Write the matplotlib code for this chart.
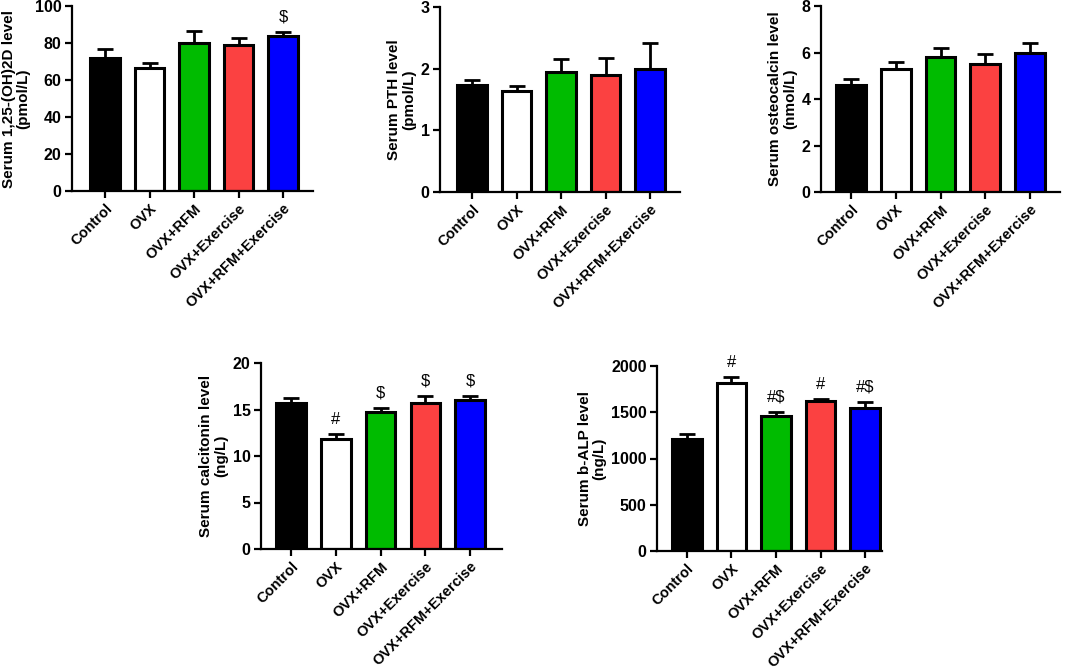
import matplotlib.pyplot as plt
import numpy as np

plt.rcParams['font.family'] = ['Liberation Sans', 'DejaVu Sans']
plt.rcParams['font.weight'] = 'bold'

groups = ["Control", "OVX", "OVX+RFM", "OVX+Exercise", "OVX+RFM+Exercise"]
bar_colors = ["#000000", "#ffffff", "#00bb00", "#fb4141", "#0000ff"]

# means and upper SEM for each panel
vitd_mean = [72, 66.5, 80, 79, 84]
vitd_err = [4.5, 2.5, 6.5, 3.5, 2.0]
vitd_marks = ["", "", "", "", "$"]

pth_mean = [1.74, 1.64, 1.94, 1.89, 1.99]
pth_err = [0.08, 0.08, 0.22, 0.29, 0.43]
pth_marks = ["", "", "", "", ""]

ost_mean = [4.6, 5.28, 5.82, 5.5, 5.97]
ost_err = [0.28, 0.30, 0.38, 0.42, 0.45]
ost_marks = ["", "", "", "", ""]

calc_mean = [15.7, 11.8, 14.75, 15.65, 16.0]
calc_err = [0.55, 0.55, 0.45, 0.85, 0.5]
calc_marks = ["", "#", "$", "$", "$"]

alp_mean = [1215, 1815, 1455, 1620, 1545]
alp_err = [50, 70, 50, 20, 70]
alp_marks = ["", "#", "#$", "#", "#$"]

W, H = 1065, 670


def px_axes(fig, x0, x1, y0, y1):
    # pixel box -> figure fraction
    return fig.add_axes([x0 / W, 1 - y1 / H, (x1 - x0) / W, (y1 - y0) / H])


def bar_panel(ax, means, errs, marks, ymax, ystep, ylabel, xlim):
    x = np.arange(len(groups))
    ax.errorbar(x, means, yerr=[np.zeros(len(errs)), errs], fmt="none",
                ecolor="black", elinewidth=2.0, capsize=6, capthick=2.0, zorder=1)
    ax.bar(x, means, width=0.66, color=bar_colors, edgecolor="black",
           linewidth=2.2, zorder=2)
    for xi, m, e, t in zip(x, means, errs, marks):
        if t:
            ax.annotate(t, (xi, m + e), xytext=(0, 5), textcoords="offset points",
                        ha="center", va="bottom", fontsize=12, fontweight="normal")
    ax.set_xlim(*xlim)
    ax.set_ylim(0, ymax)
    ax.set_yticks(np.arange(0, ymax + ystep / 2, ystep))
    ax.set_xticks(x)
    ax.set_xticklabels(groups, rotation=45, ha="right", rotation_mode="anchor",
                       fontsize=10.5, fontweight="bold")
    ax.set_ylabel(ylabel, fontsize=11, fontweight="bold", linespacing=1.1,
                  labelpad=3)
    for lab in ax.get_yticklabels():
        lab.set_fontsize(11.5)
        lab.set_fontweight("bold")
    ax.spines["top"].set_visible(False)
    ax.spines["right"].set_visible(False)
    ax.spines["left"].set_linewidth(1.6)
    ax.spines["bottom"].set_linewidth(1.6)
    ax.tick_params(width=1.6, length=5, pad=2.5)


fig = plt.figure(figsize=(W / 100, H / 100), dpi=100)

ax1 = px_axes(fig, 72, 313, 6, 191)
bar_panel(ax1, vitd_mean, vitd_err, vitd_marks, 100, 20,
          "Serum 1,25-(OH)2D level\n(pmol/L)", (-0.74, 4.67))

ax2 = px_axes(fig, 440, 680, 7, 192)
bar_panel(ax2, pth_mean, pth_err, pth_marks, 3, 1,
          "Serum PTH level\n(pmol/L)", (-0.72, 4.67))

ax3 = px_axes(fig, 821, 1060, 6, 192)
bar_panel(ax3, ost_mean, ost_err, ost_marks, 8, 2,
          "Serum osteocalcin level\n(nmol/L)", (-0.67, 4.67))

ax4 = px_axes(fig, 261, 502, 363, 549)
bar_panel(ax4, calc_mean, calc_err, calc_marks, 20, 5,
          "Serum calcitonin level\n(ng/L)", (-0.67, 4.71))

ax5 = px_axes(fig, 657, 882, 366, 551)
bar_panel(ax5, alp_mean, alp_err, alp_marks, 2000, 500,
          "Serum b-ALP level\n(ng/L)", (-0.67, 4.38))

fig.savefig("out.png", dpi=100)
